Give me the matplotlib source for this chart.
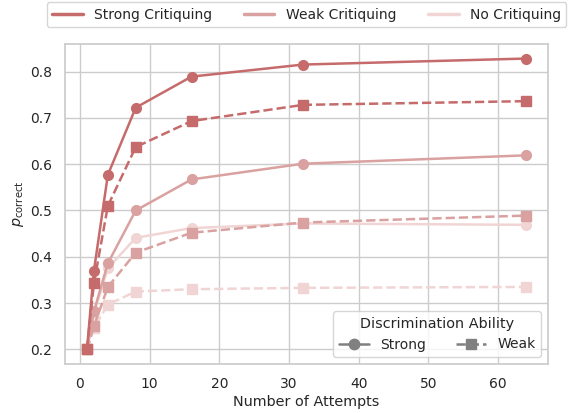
import matplotlib
matplotlib.use("Agg")
import matplotlib.pyplot as plt
import seaborn as sns
from matplotlib.lines import Line2D

sns.set_theme(style="whitegrid")
plt.rcParams['font.family'] = ['DejaVu Sans']
plt.rcParams.update({
    'xtick.labelsize': 10,
    'ytick.labelsize': 10,
    'axes.labelsize': 10.4,
    'legend.fontsize': 10,
    'legend.title_fontsize': 10.4,
})

attempts = [1, 2, 4, 8, 16, 32, 64]
critique_levels = ["Strong Critiquing", "Weak Critiquing", "No Critiquing"]
colors = ["#c66b6b", "#d9a19f", "#f0d5d4"]

strong_disc = {
    "Strong Critiquing": [0.20, 0.370, 0.577, 0.722, 0.789, 0.815, 0.828],
    "Weak Critiquing":   [0.20, 0.282, 0.386, 0.500, 0.567, 0.601, 0.619],
    "No Critiquing":     [0.20, 0.278, 0.375, 0.441, 0.462, 0.472, 0.469],
}
weak_disc = {
    "Strong Critiquing": [0.20, 0.343, 0.510, 0.637, 0.693, 0.728, 0.736],
    "Weak Critiquing":   [0.20, 0.250, 0.335, 0.409, 0.452, 0.474, 0.489],
    "No Critiquing":     [0.20, 0.246, 0.297, 0.325, 0.330, 0.333, 0.335],
}

fig = plt.figure(figsize=(5.7, 4.13), dpi=100)
ax = fig.add_axes([65/570, 1-364/413, (548-65)/570, (364-44)/413])

for lvl, c in reversed(list(zip(critique_levels, colors))):
    ax.plot(attempts, strong_disc[lvl], color=c, linestyle='-', marker='o',
            markersize=7, linewidth=1.8)
    ax.plot(attempts, weak_disc[lvl], color=c, linestyle='--', marker='s',
            markersize=7, linewidth=1.8)

ax.set_xlabel("Number of Attempts", labelpad=3)
ax.set_ylabel(r"$p_{\mathrm{correct}}$", labelpad=3)
ax.set_xticks([0, 10, 20, 30, 40, 50, 60])
ax.set_yticks([0.2, 0.3, 0.4, 0.5, 0.6, 0.7, 0.8])

crit_handles = [Line2D([0], [0], color=c, linewidth=2.5) for c in colors]
leg1 = ax.legend(crit_handles, critique_levels, loc='upper center',
                 bbox_to_anchor=(0.5, 1.0 + 42/320), ncol=3, frameon=True,
                 columnspacing=2.3, handlelength=2.2, borderaxespad=0)
ax.add_artist(leg1)

disc_handles = [
    Line2D([0], [0], color='gray', linestyle='-', marker='o', markersize=7.5, linewidth=1.8),
    Line2D([0], [0], color='gray', linestyle='--', marker='s', markersize=7.5, linewidth=1.8),
]
ax.legend(disc_handles, ["Strong", "Weak"], title="Discrimination Ability",
          loc='lower right', ncol=2, handlelength=2.2, columnspacing=2.1)

fig.savefig("out.png", dpi=100)
